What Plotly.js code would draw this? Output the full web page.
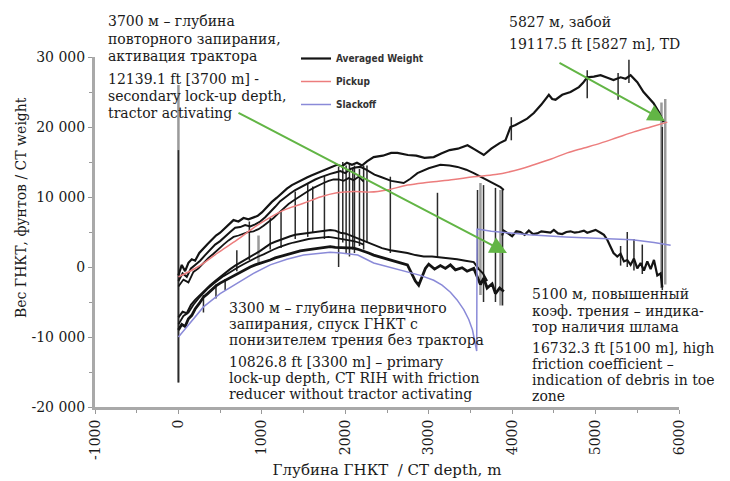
<!DOCTYPE html>
<html>
<head>
<meta charset="utf-8">
<script src="https://cdn.plot.ly/plotly-3.0.1.min.js"></script>
<style>html,body{margin:0;padding:0;background:#fff}</style>
</head>
<body>
<div id="chart" style="width:730px;height:481px"></div>
<script>
// ---- Tick labels ----
const xTickVals = [-1000, 0, 1000, 2000, 3000, 4000, 5000, 6000];
const xTickText = ["-1000", "0", "1000", "2000", "3000", "4000", "5000", "6000"];
const yTickVals = [-20000, -10000, 0, 10000, 20000, 30000];
const yTickText = ["-20 000", "-10 000", "0", "10 000", "20 000", "30 000"];

// ---- Averaged weight: upper strand (POOH, continues to TD) ----
const depthA = [0,40,80,120,160,200,250,300,350,400,450,500,550,600,660,720,780,840,900,950,1000,1060,1120,1180,1240,1300,1360,1420,1480,1540,1600,1660,1720,1780,1840,1900,1960,2020,2080,2140,2200,2260,2340,2450,2550,2625,2750,2850,2950,3060,3150,3250,3350,3465,3550,3660,3750,3850,3920,3980,4040,4100,4180,4260,4350,4440,4480,4520,4600,4700,4800,4850,4900,4980,5060,5150,5215,5300,5360,5420,5500,5575,5640,5695,5760,5815];
const weightA = [-1200,300,-600,600,1100,900,2000,2700,3300,3900,4500,4900,5500,6000,6700,6500,7000,6800,7100,7300,7800,8600,9300,9900,10600,11200,11700,12100,12400,12800,13100,13400,13700,13900,14300,14600,14400,14900,14600,14900,14500,15100,15700,15900,16300,16300,16000,15900,15600,15700,16200,16700,16900,17400,16800,16000,16900,17700,18100,20000,20300,20700,21200,22000,23200,24600,24000,23900,24600,25000,25700,26300,27100,27200,27400,27000,26700,27100,26900,27400,26400,25000,24200,23400,22100,20700];

// ---- Averaged weight: middle strand (continues as second lock-up curve) ----
const depthB = [0,50,100,150,200,260,320,380,440,500,560,620,680,740,800,860,920,980,1040,1100,1160,1220,1280,1340,1400,1460,1520,1580,1640,1700,1760,1820,1880,1940,2000,2060,2120,2180,2250,2350,2420,2550,2700,2780,2865,3000,3140,3250,3345,3450,3540,3620,3705,3780,3860,3900];
const weightB = [-2000,-900,-1400,-200,300,900,1700,2400,3200,3700,4400,5000,5600,5700,6000,5800,6100,6500,7100,7800,8600,9400,10000,10500,11000,11400,11800,12100,12500,12800,13100,13300,13500,13700,13400,14000,14200,14300,13900,13200,12900,12300,12000,12600,13400,14100,14600,14500,14300,13900,13400,12900,12400,11900,11400,11000];

// ---- Averaged weight: lower strand of upper band ----
const depthC = [0,60,120,180,240,300,360,420,480,540,600,660,720,780,840,900,960,1020,1080,1140,1200,1260,1320,1380,1440,1500,1560,1620,1680,1740,1800,1860,1920,1980,2040,2100,2160,2220];
const weightC = [-2800,-1800,-2200,-700,-200,600,1300,1900,2600,3200,3800,4300,4500,4800,5000,5100,5400,5900,6400,7000,7700,8400,9000,9500,10000,10500,10900,11300,11700,12000,12300,12500,12500,12300,12700,12400,12900,12200];

// ---- Averaged weight: RIH band, upper strand ----
const depthR1 = [0,50,100,150,200,260,320,380,440,500,560,620,680,740,800,860,920,980,1040,1100,1160,1220,1280,1340,1400,1460,1520,1580,1640,1700,1760,1820,1880,1940,2000,2060,2120,2180,2240,2340,2440,2540,2640,2745,2840,2940,3040,3140,3240,3340,3440,3540,3600,3650,3700];
const weightR1 = [-7200,-6400,-6600,-5400,-4700,-4000,-3200,-2600,-2000,-1400,-900,-300,200,600,1000,1500,1900,2300,2800,3300,3600,3900,4200,4400,4600,4700,4900,5000,5100,5200,5300,5300,5200,4900,4800,4500,4300,4000,3700,3100,2700,2400,2200,2000,1700,1500,1500,1400,1300,1100,900,700,-300,-900,-2000];

// ---- Averaged weight: RIH band, middle strand ----
const depthR3 = [0,60,120,180,240,300,360,420,480,540,600,660,720,780,840,900,960,1020,1080,1140,1200,1260,1320,1380,1440,1500,1560,1620,1680,1740,1800,1860,1920,1980,2040,2100,2160,2220];
const weightR3 = [-8200,-7000,-6500,-5400,-4500,-3700,-3000,-2400,-1800,-1300,-900,-400,0,400,800,1100,1500,1800,2200,2500,2800,3100,3300,3500,3700,3900,4000,4100,4200,4300,4300,4200,4100,4000,3800,3700,3500,3200];

// ---- Averaged weight: RIH band, lower strand ----
const depthR2 = [0,40,80,120,160,200,250,300,350,400,450,500,560,620,680,740,800,860,920,980,1040,1100,1160,1220,1280,1340,1400,1460,1520,1580,1640,1700,1760,1820,1880,1950,2020,2100,2160,2220,2280,2340,2420,2500,2580,2660,2745,2790,2840,2880,2920,2960,3000,3070,3140,3200,3260,3320,3400,3460,3540,3580,3620,3660,3700,3760,3800,3850,3900];
const weightR2 = [-9000,-8200,-8500,-7400,-6900,-6000,-5200,-4300,-3800,-3200,-2700,-2300,-1900,-1500,-1100,-800,-300,0,300,500,800,1000,1300,1500,1800,2000,2200,2300,2400,2500,2600,2800,2900,2900,2800,2800,2700,2700,2500,2300,2000,1700,1400,1100,900,600,300,-800,-2000,-2600,-1400,-200,400,-300,200,-200,300,-400,-100,-600,-200,-1400,-2500,-1600,-3000,-2400,-3800,-3000,-3500];

// ---- Averaged weight: tractor run beyond 3900 m ----
const depthR4 = [3880,3900,3950,4000,4050,4100,4150,4200,4250,4300,4350,4400,4460,4500,4550,4600,4650,4700,4750,4800,4860,4900,4950,5000,5060,5100,5140,5180,5215,5260,5300,5340,5380,5420,5460,5500,5540,5580,5620,5660,5700,5740,5780,5800];
const weightR4 = [4500,5200,4800,4400,5100,5000,4600,5200,4700,4800,5100,5000,4900,5300,4800,4700,5000,5100,4900,5000,5200,4900,5100,5300,4900,4600,3900,2800,2000,1500,1900,800,1000,300,1200,-200,570,-500,800,-300,1000,-1200,-900,-2900];

// ---- Spikes in averaged weight (depth, top, bottom) ----
const spikeDepth = [0,700,850,1100,1230,1400,1550,1610,1750,1920,1970,2010,2050,2090,2110,2170,2220,2260,2540,3105,3585,3657,3800,3885,3990,4900,5270,5400,5300,5380,5460,5560,5800,300,450,560];
const spikeTop   = [16700,2400,6500,7000,8000,10800,12000,11500,13000,14300,15000,14500,14800,14200,14500,14000,14500,14500,12900,10600,11000,11700,11300,11100,21400,28100,27700,29600,3000,5000,4000,3200,20000,-4000,-2500,-1700];
const spikeBot   = [-16500,-600,1000,2500,2700,4000,4300,5000,4000,0,3500,2000,1500,2500,2000,3000,2500,3500,2000,1400,-400,-5000,-5000,-5500,18100,24100,23900,26300,200,0,-500,-1000,-3300,-6500,-4500,-3300];

// ---- Raw (grey) spikes ----
const greyDepth = [0,960,3620,3860,5790,5835];
const greyTop   = [26000,4500,12000,11000,23500,24000];
const greyBot   = [-16500,300,-4000,-5500,-3000,-2500];

// ---- Pickup model ----
const pickupDepth = [0,230,470,707,900,1100,1300,1500,1700,1900,2100,2300,2500,2745,3000,3300,3540,3800,4100,4260,4460,4660,4860,5060,5260,5460,5660,5860];
const pickupWeight = [-1400,0,2000,3900,5600,7100,8300,9100,10000,10600,10800,10700,11000,11700,12100,12500,12900,13200,14000,14600,15400,16300,17000,17700,18500,19300,20000,20700];

// ---- Slackoff model ----
const slackDepth = [0,150,300,500,707,900,1100,1300,1500,1700,1820,1950,2150,2340,2545,2745,2900,3060,3160,3260,3340,3420,3480,3525,3560,3575,3580,3600,3750,3900,4200,4640,5060,5440,5700,5900];
const slackWeight = [-10000,-7800,-5700,-3800,-2300,-900,300,1100,1700,2000,2100,2000,1700,570,-100,-700,-1200,-1900,-2600,-3600,-4700,-6100,-7500,-9000,-11100,-12000,5400,5400,5100,4900,4600,4300,4100,3900,3500,3100];

// ---- Build segment traces from spike arrays ----
function segs(d, t, b) {
  const xs = [], ys = [];
  for (let i = 0; i < d.length; i++) { xs.push(d[i], d[i], null); ys.push(t[i], b[i], null); }
  return {x: xs, y: ys};
}
const sp = segs(spikeDepth, spikeTop, spikeBot);
const gs = segs(greyDepth, greyTop, greyBot);

const BLACK = '#141414';
const blackLine = (x, y, w, extra) => Object.assign({
  type: 'scatter', mode: 'lines', x: x, y: y,
  line: {color: BLACK, width: w}, showlegend: false, hoverinfo: 'skip',
  legendgroup: 'avg'
}, extra || {});

const traces = [
  {type:'scatter', mode:'lines', x: gs.x, y: gs.y, line:{color:'#9a9a9a', width:2.5}, showlegend:false, hoverinfo:'skip', connectgaps:false},
  blackLine(sp.x, sp.y, 1.5, {connectgaps:false, line:{color:'#2a2a2a', width:1.5}}),
  blackLine(depthC, weightC, 1.8),
  blackLine(depthB, weightB, 2),
  blackLine(depthR3, weightR3, 1.8),
  blackLine(depthR2, weightR2, 2.8),
  blackLine(depthR1, weightR1, 2),
  blackLine(depthR4, weightR4, 2.2),
  {type:'scatter', mode:'lines', x: pickupDepth, y: pickupWeight, name:'Pickup',
   line:{color:'#ec7d7d', width:1.5, shape:'spline'}, legendgroup:'pick', legendrank:2},
  {type:'scatter', mode:'lines', x: slackDepth, y: slackWeight, name:'Slackoff',
   line:{color:'#8a8ad8', width:1.5}, legendgroup:'slack', legendrank:3},
  blackLine(depthA, weightA, 2.2, {name:'Averaged Weight', showlegend:true, legendrank:1})
];

// ---- Text blocks (pixel positions within the 730x481 page) ----
const L = 95, R = 679, T = 57, B = 407;
const px = v => (v - L) / (R - L);
const py = v => (B - v) / (B - T);
const SERIF = 'DejaVu Serif, Liberation Serif, serif';
const textLines = [
  [106, 21, '3700 м – глубина'],
  [106, 39, 'повторного запирания,'],
  [106, 56, 'активация трактора'],
  [106, 79, '12139.1 ft [3700 m] -'],
  [106, 96, 'secondary lock-up depth,'],
  [106, 113, 'tractor activating'],
  [507, 22, '5827 м, забой'],
  [507, 44, '19117.5 ft [5827 m], TD'],
  [227, 308, '3300 м – глубина первичного'],
  [227, 324, 'запирания, спуск ГНКТ с'],
  [227, 340, 'понизителем трения без трактора'],
  [227, 362, '10826.8 ft [3300 m] – primary'],
  [227, 378, 'lock-up depth, CT RIH with friction'],
  [227, 394, 'reducer without tractor activating'],
  [530, 294, '5100 м, повышенный'],
  [530, 311, 'коэф. трения – индика-'],
  [530, 327, 'тор наличия шлама'],
  [530, 348, '16732.3 ft [5100 m], high'],
  [530, 364, 'friction coefficient –'],
  [530, 380, 'indication of debris in toe'],
  [530, 396, 'zone']
];
const annotations = textLines.map(t => ({
  xref:'paper', yref:'paper', x: px(t[0]), y: py(t[1]), xanchor:'left', yanchor:'middle',
  text: t[2], showarrow:false, font:{family: SERIF, size:14, color:'#1a1a1a'}
}));
// y-axis title placed where the reference shows it
annotations.push({xref:'paper', yref:'paper', x: px(21), y: py(208), xanchor:'center', yanchor:'middle',
  text:'Вес ГНКТ, фунтов / CT weight', textangle:-90, showarrow:false,
  font:{family: SERIF, size:14, color:'#1a1a1a'}});
// green arrows
annotations.push({xref:'paper', yref:'paper', x: px(507), y: py(253), ax: 237-507, ay: 112-253,
  text:'', showarrow:true, arrowhead:2, arrowsize:1.7, arrowwidth:2, arrowcolor:'#62b545', standoff:0});
annotations.push({xref:'paper', yref:'paper', x: px(665), y: py(121), ax: 558-665, ay: 62-121,
  text:'', showarrow:true, arrowhead:2, arrowsize:1.7, arrowwidth:2, arrowcolor:'#62b545', standoff:0});

const axisCommon = {
  showline:true, linecolor:'#a9a9a9', linewidth:3, mirror:false,
  ticks:'outside', ticklen:4, tickcolor:'#999', tickwidth:1,
  showgrid:false, zeroline:false, automargin:false,
  tickfont:{family: SERIF, size:14, color:'#1a1a1a'}
};

const layout = {
  width:730, height:481,
  margin:{l:L, r:730-R, t:T, b:481-B, pad:0},
  paper_bgcolor:'#fff', plot_bgcolor:'#fff',
  font:{family: SERIF, size:14, color:'#1a1a1a'},
  xaxis: Object.assign({}, axisCommon, {
    range:[-1000, 6000], tickmode:'array', tickvals:xTickVals, ticktext:xTickText, tickangle:-90,
    minor:{dtick:500, ticks:'outside', ticklen:3, tickcolor:'#999'},
    title:{text:'Глубина ГНКТ  / CT depth, m', font:{family:SERIF, size:15, color:'#1a1a1a'}, standoff:6}
  }),
  yaxis: Object.assign({}, axisCommon, {
    range:[-20000, 30000], tickmode:'array', tickvals:yTickVals, ticktext:yTickText,
    minor:{dtick:5000, ticks:'outside', ticklen:3, tickcolor:'#999'}
  }),
  showlegend:true,
  legend:{x: px(296), y: py(44), xanchor:'left', yanchor:'top', bgcolor:'rgba(0,0,0,0)',
    traceorder:'grouped', tracegroupgap:4,
    font:{family:'DejaVu Sans Condensed, Liberation Sans Narrow, sans-serif', size:10, color:'#333', weight:'bold'}},
  annotations: annotations
};

Plotly.newPlot('chart', traces, layout, {displayModeBar:false, staticPlot:true});
</script>
</body>
</html>
